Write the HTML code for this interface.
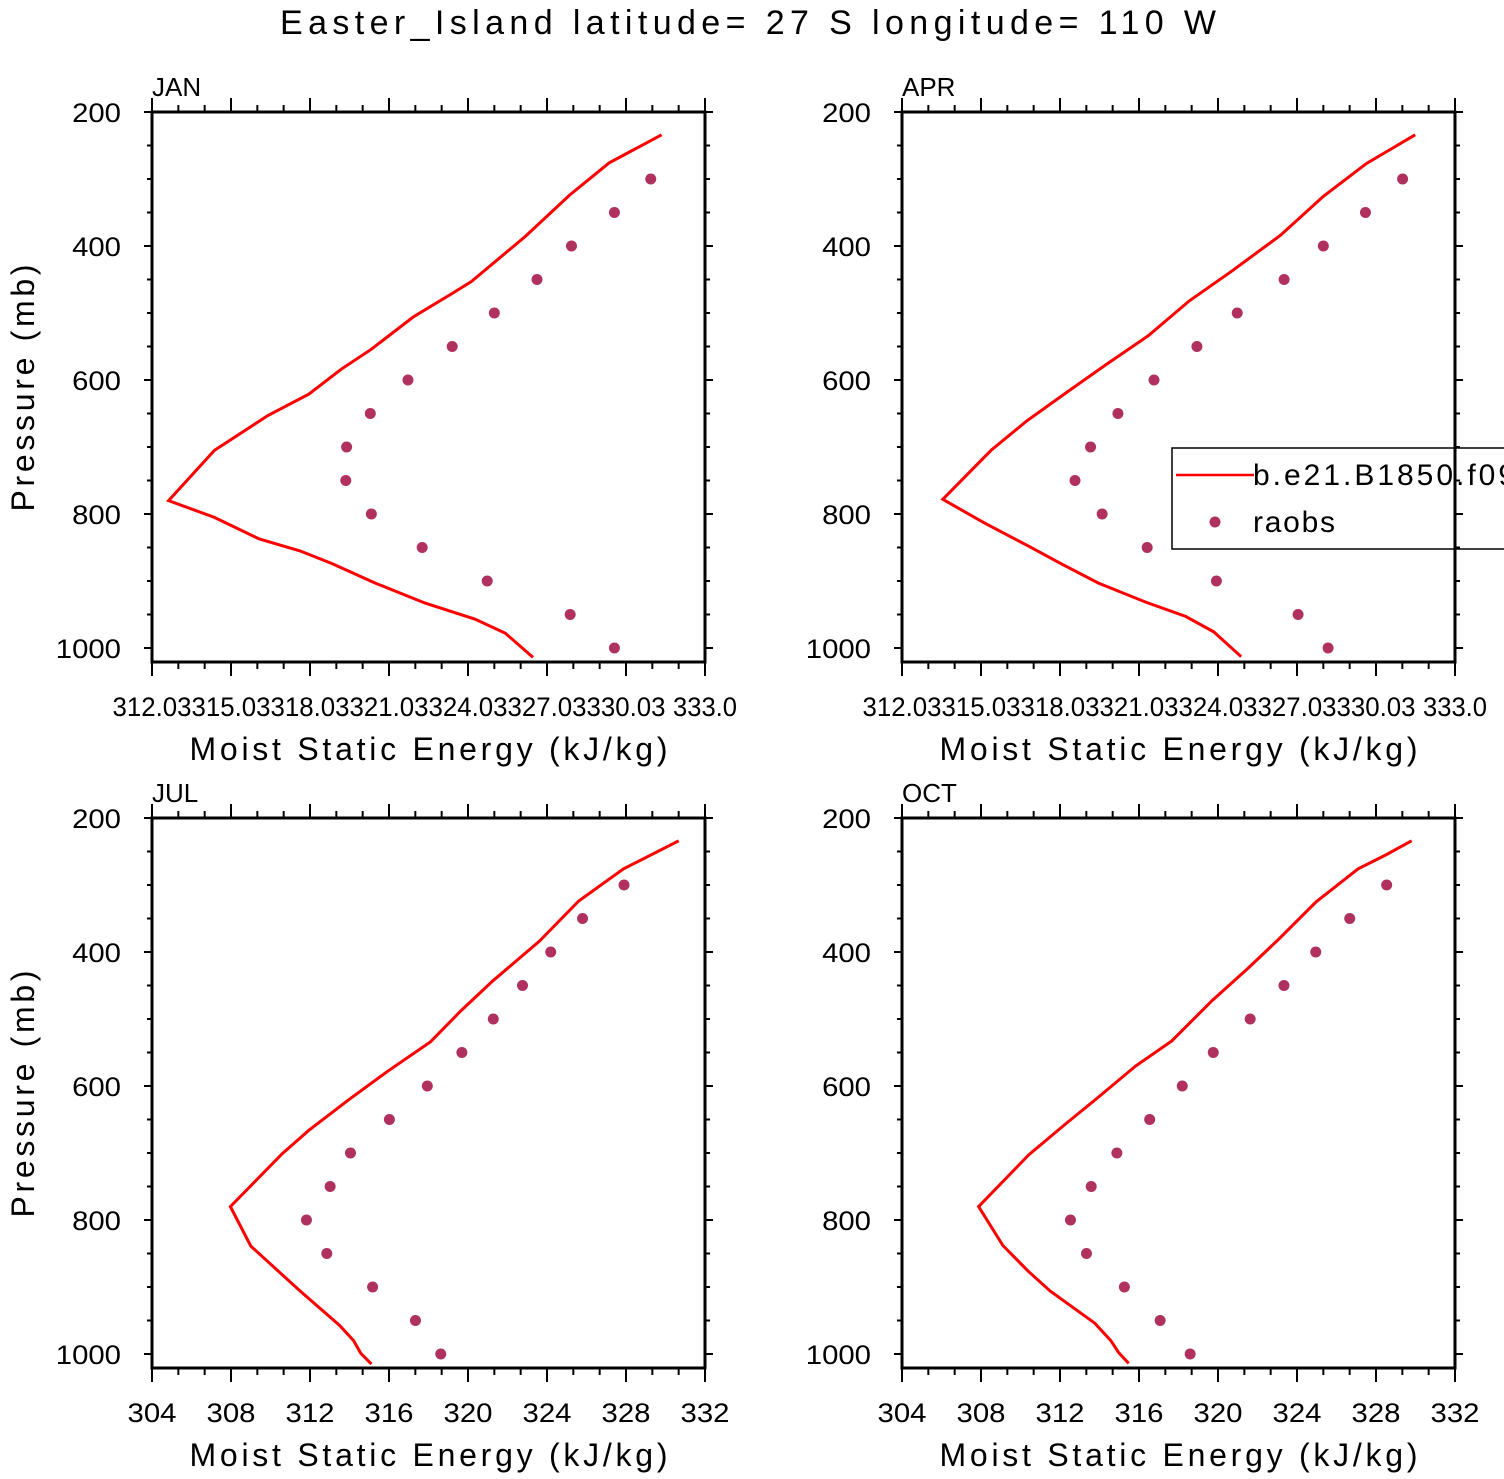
<!DOCTYPE html>
<html><head><meta charset="utf-8"><style>
html,body{margin:0;padding:0;background:#fff;}
svg{display:block;font-family:"Liberation Sans",sans-serif;}
</style></head><body>
<svg id="fig" width="1504" height="1479" viewBox="0 0 1504 1479" xmlns="http://www.w3.org/2000/svg">
<text x="748" y="34" font-size="34" text-anchor="middle" textLength="936" lengthAdjust="spacing">Easter_Island  latitude= 27 S longitude= 110 W</text>
</svg>
<script>
// Pressure levels of the raobs (mb)
const obsLevels = [300,350,400,450,500,550,600,650,700,750,800,850,900,950,1000];
// JAN
const janModelP = [234,276,324,386,453,471,506,554,584,621,653,705,780,805,837,855,874,903,933,957,978,1014];
const janModelX = [331.38,329.39,327.89,326.20,324.16,323.42,321.95,320.36,319.21,317.99,316.43,314.40,312.66,314.40,316.09,317.65,318.87,320.50,322.40,324.30,325.45,326.50];
const janObs = [330.97,329.59,327.96,326.65,325.03,323.43,321.75,320.32,319.42,319.39,320.36,322.29,324.76,327.91,329.59];
// APR
const aprModelP = [234,277,326,384,437,482,534,576,621,661,705,778,813,848,874,903,932,953,976,1013];
const aprModelX = [331.52,329.66,328.03,326.40,324.57,322.94,321.38,319.82,318.19,316.77,315.41,313.58,315.14,316.84,318.06,319.48,321.31,322.81,323.87,324.91];
const aprObs = [331.04,329.63,328.03,326.54,324.76,323.23,321.60,320.23,319.19,318.60,319.63,321.34,323.97,327.07,328.21];
// JUL
const julModelP = [234,276,324,384,443,488,534,578,621,666,701,780,839,906,957,980,999,1015];
const julModelX = [330.67,327.87,325.60,323.61,321.26,319.63,318.10,315.93,313.94,311.95,310.59,307.97,309.00,311.50,313.49,314.21,314.57,315.11];
const julObs = [327.90,325.80,324.19,322.76,321.28,319.69,317.94,316.02,314.05,313.02,311.82,312.85,315.17,317.34,318.62];
// OCT
const octModelP = [234,255,276,325,381,424,472,533,570,621,656,703,780,838,877,906,954,980,998,1014];
const octModelX = [329.80,328.50,327.09,324.97,323.07,321.53,319.72,317.65,315.84,313.76,312.31,310.41,307.88,309.11,310.41,311.50,313.76,314.57,314.97,315.48];
const octObs = [328.54,326.67,324.95,323.34,321.63,319.76,318.19,316.54,314.88,313.58,312.53,313.34,315.26,317.07,318.59];
// Axis tick labels
const pTickLabels = ["200","400","600","800","1000"];
const xTickLabelsTop = ["312.03","315.03","318.03","321.03","324.03","327.03","330.03","333.0"];
const xTickLabelsBot = ["304","308","312","316","320","324","328","332"];

const NS = "http://www.w3.org/2000/svg";
const svg = document.getElementById('fig');
function mk(tag, attrs, parent){
  const e = document.createElementNS(NS, tag);
  for (const k in attrs) e.setAttribute(k, attrs[k]);
  (parent||svg).appendChild(e);
  return e;
}

function panel(name, x0, y0, xmin, xmax, xlabels, modelX, modelP, obs, legend){
  const W = 553, pTop = 200, pxPerMb = 0.67, yBot = y0 + 550;
  const g = mk('g', {});
  
  
  const sx = v => x0 + (v - xmin) / (xmax - xmin) * W;
  const sy = p => y0 + (p - pTop) * pxPerMb;

  const t = mk('text', {x: x0, y: y0 - 16, 'font-size': 26}, g);
  t.textContent = name.toUpperCase();
  
  

  for (let p = 200; p <= 1000; p += 50) {
    const major = (p % 200 === 0);
    const L = major ? 8 : 5;
    const y = sy(p);
    const tl = mk('line', {x1: x0 - L, y1: y, x2: x0, y2: y, stroke: '#000', 'stroke-width': 2}, g);
    
    
    const tr = mk('line', {x1: x0 + W, y1: y, x2: x0 + W + L, y2: y, stroke: '#000', 'stroke-width': 2}, g);
    
    
  }
  pTickLabels.forEach((lab, i) => {
    const p = 200 + i * 200;
    const tx = mk('text', {x: x0 - 31, y: sy(p) + 10, 'font-size': 27, 'text-anchor': 'end', textLength: lab.length * 16.3, lengthAdjust: 'spacingAndGlyphs'}, g);
    tx.textContent = lab;
    
    
  });

  const nMaj = xlabels.length - 1;
  for (let i = 0; i <= nMaj * 3; i++) {
    const major = (i % 3 === 0);
    const x = x0 + i * W / (nMaj * 3);
    const tb = mk('line', {x1: x, y1: yBot, x2: x, y2: yBot + (major ? 14 : 7), stroke: '#000', 'stroke-width': 2}, g);
    
    
    const tt = mk('line', {x1: x, y1: y0, x2: x, y2: y0 - (major ? 14 : 7), stroke: '#000', 'stroke-width': 2}, g);
    
    
  }
  xlabels.forEach((lab, i) => {
    const wlen = lab.length === 6 ? 79 : (lab.length === 5 ? 64 : 49);
    const tx = mk('text', {x: x0 + i * W / nMaj, y: yBot + 54, 'font-size': 27, 'text-anchor': 'middle', textLength: wlen, lengthAdjust: 'spacingAndGlyphs'}, g);
    tx.textContent = lab;
    
    
  });

  const fr = mk('rect', {x: x0, y: y0, width: W, height: yBot - y0, fill: 'none', stroke: '#000', 'stroke-width': 3}, g);
  
  

  const xt = mk('text', {x: x0 + W / 2, y: yBot + 98, 'font-size': 32, 'text-anchor': 'middle', textLength: 478, lengthAdjust: 'spacing'}, g);
  xt.textContent = 'Moist Static Energy (kJ/kg)';
  
  
  if (x0 < 500) {
    const yc = y0 + 276;
    const yt = mk('text', {x: 34, y: yc, 'font-size': 32, 'text-anchor': 'middle', transform: `rotate(-90 34 ${yc})`, textLength: 247, lengthAdjust: 'spacing'}, g);
    yt.textContent = 'Pressure (mb)';
    
    
  }

  const pts = modelX.map((v, i) => sx(v).toFixed(1) + ',' + sy(modelP[i]).toFixed(1)).join(' ');
  const pl = mk('polyline', {points: pts, fill: 'none', stroke: '#ff0000', 'stroke-width': 3}, g);
  
  

  obs.forEach((v, i) => {
    const c = mk('circle', {cx: sx(v), cy: sy(obsLevels[i]), r: 5.5, fill: '#b0305e'}, g);
    
    
  });

  if (legend) {
    const lg = mk('g', {}, g);
    
    
    mk('rect', {x: 1172, y: 448, width: 340, height: 101, fill: 'none', stroke: '#000', 'stroke-width': 1.5}, lg);
    const ll = mk('line', {x1: 1176, y1: 475, x2: 1254, y2: 475, stroke: '#ff0000', 'stroke-width': 2.5}, lg);
    
    
    const lt = mk('text', {x: 1253, y: 485, 'font-size': 30, textLength: 262, lengthAdjust: 'spacing'}, lg);
    lt.textContent = 'b.e21.B1850.f09';
    
    
    const ld = mk('circle', {cx: 1215, cy: 522, r: 5.5, fill: '#b0305e'}, lg);
    
    
    const lt2 = mk('text', {x: 1253, y: 532, 'font-size': 30, textLength: 82, lengthAdjust: 'spacing'}, lg);
    lt2.textContent = 'raobs';
    
    
  }
}

panel('jan', 152, 112, 312.03, 333.03, xTickLabelsTop, janModelX, janModelP, janObs, false);
panel('apr', 902, 112, 312.03, 333.03, xTickLabelsTop, aprModelX, aprModelP, aprObs, true);
panel('jul', 152, 818, 304, 332, xTickLabelsBot, julModelX, julModelP, julObs, false);
panel('oct', 902, 818, 304, 332, xTickLabelsBot, octModelX, octModelP, octObs, false);
</script>
</body></html>
